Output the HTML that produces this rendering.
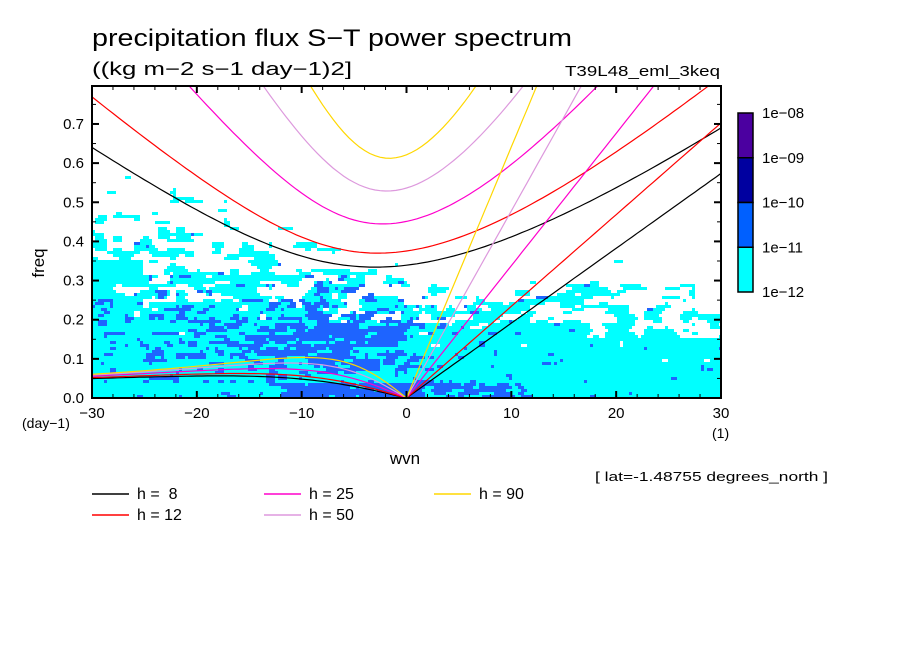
<!DOCTYPE html>
<html><head><meta charset="utf-8"><style>
body{margin:0;background:#fff;width:904px;height:654px;overflow:hidden}
svg{display:block}
text{font-family:"Liberation Sans","DejaVu Sans",sans-serif;fill:#000}
</style></head><body>
<svg id="chart" width="904" height="654" viewBox="0 0 904 654">
<g id="field"></g>
<g id="curves"></g>
<g id="axes"></g>
<text x="92" y="46" font-size="24" textLength="480" lengthAdjust="spacingAndGlyphs">precipitation flux S−T power spectrum</text>
<text x="92" y="75" font-size="18" textLength="260" lengthAdjust="spacingAndGlyphs">((kg m−2 s−1 day−1)2]</text>
<text x="565" y="76" font-size="15" textLength="155" lengthAdjust="spacingAndGlyphs">T39L48_eml_3keq</text>
<text x="38" y="257" font-size="17" transform="rotate(-90 44 257)" text-anchor="middle">freq</text>
<text x="405" y="464" font-size="17" text-anchor="middle">wvn</text>
<text x="22" y="428" font-size="14">(day−1)</text>
<text x="712" y="438" font-size="14">(1)</text>
<text x="595" y="481" font-size="13" textLength="233" lengthAdjust="spacingAndGlyphs">[ lat=-1.48755 degrees_north ]</text>
<g id="cbar"></g>
<g id="legend"></g>
</svg>
<script>
const NS="http://www.w3.org/2000/svg";
const hValues=[8,12,25,50,90];
const hColors=["#000000","#ff0000","#ff00cc","#dd99dd","#ffd700"];
const cbarLabels=["1e-08","1e-09","1e-10","1e-11","1e-12"];
const cbarColors=["#4b00a0","#0000a0","#0060ff","#00ffff"];
const xTicks=[-30,-20,-10,0,10,20,30];
const yTicks=[0.0,0.1,0.2,0.3,0.4,0.5,0.6,0.7];

const X0=92,X1=721,Y0=398,Y1=86,XMIN=-30,XMAX=30,YMIN=0,YMAX=0.797;
const sx=k=>X0+(k-XMIN)/(XMAX-XMIN)*(X1-X0);
const sy=f=>Y0-(f-YMIN)/(YMAX-YMIN)*(Y0-Y1);
function mk(tag,attrs,parent){const e=document.createElementNS(NS,tag);for(const a in attrs)e.setAttribute(a,attrs[a]);parent.appendChild(e);return e;}

// ---- background field (deterministic texture) ----
function hash2(i,j){let h=Math.sin(i*127.1+j*311.7)*43758.5453;return h-Math.floor(h);}
function vnoise(x,y){const i=Math.floor(x),j=Math.floor(y),fx=x-i,fy=y-j;
 const u=fx*fx*(3-2*fx),v=fy*fy*(3-2*fy);
 const p=hash2(i,j),b=hash2(i+1,j),c=hash2(i,j+1),d=hash2(i+1,j+1);
 return p+(b-p)*u+(c-p)*v+(p-b-c+d)*u*v;}
function bound(k){return k<0?0.5-0.17*(k+30)/30:0.31-0.06*k/30;}
const fieldG=document.getElementById('field');
const cw=3,ch=3;
let cyanPath="",bluePath="";
for(let px=X0;px<X1;px+=cw){for(let py=Y1;py<Y0;py+=ch){
 const k=XMIN+(px+cw/2-X0)/(X1-X0)*(XMAX-XMIN);
 const f=(Y0-(py+ch/2))/(Y0-Y1)*YMAX;
 const n=vnoise(px/22,py/9)*0.5+vnoise(px/9,py/4)*0.5;
 const L=1-f/bound(k)+(n-0.5)*1.1;
 const n2=vnoise(px/10+50,py/4+20)*0.6+vnoise(px/5+9,py/2.5+3)*0.4;
 let B=0.3*Math.exp(-(((k+7)/13)**2))*Math.exp(-(((f-0.14)/0.13)**2))+((f<0.035&&k>-12&&k<12)?0.35:0)+0.12*(k<0?1:0.2)*Math.exp(-(((f-0.18)/0.12)**2));
 B+=(n2-0.5)*0.9;
 const cell=`M${px},${py}h${cw}v${ch}h${-cw}z`;
 if(L>0.2)cyanPath+=cell;
 if(L>0.2&&B>0.3)bluePath+=cell;
}}
const cp=mk('path',{d:cyanPath,fill:'#00ffff'},fieldG);


const bp=mk('path',{d:bluePath,fill:'#1e64ff'},fieldG);



// ---- dispersion curves ----
const beta=2.29e-11,Ra=6.371e6,grav=9.81;
const toCpd=w=>w*86400/(2*Math.PI);
const curvesG=document.getElementById('curves');
function clipPoly(pts){return pts.filter(p=>p[1]<=YMAX+0.05&&p[1]>=-0.01).map(p=>sx(p[0]).toFixed(1)+","+sy(Math.min(p[1],YMAX+0.05)).toFixed(1)).join(" ");}
const clipEl=mk('clipPath',{id:'pc'},mk('defs',{},curvesG));
mk('rect',{x:X0,y:Y1,width:X1-X0,height:Y0-Y1},clipEl);
hValues.forEach((h,i)=>{
 const c=Math.sqrt(grav*h);
 const g2=mk('g',{'clip-path':'url(#pc)',stroke:hColors[i],fill:'none','stroke-width':1.2},curvesG);
 
 
 const kel=[];for(let kw=0;kw<=30;kw+=0.5){kel.push([kw,toCpd(c*kw/Ra)]);}
 const p1=mk('polyline',{points:clipPoly(kel)},g2);
 
 
 const er=[];for(let kw=-30;kw<=0;kw+=0.5){const k=kw/Ra;er.push([kw,toCpd(-beta*k/(k*k+3*beta/c))]);}
 const p2=mk('polyline',{points:clipPoly(er)},g2);
 
 
 const ig=[];for(let kw=-30;kw<=30;kw+=0.5){const k=kw/Ra;let w=Math.sqrt(3*beta*c+c*c*k*k);
  for(let it=0;it<30;it++){w=Math.sqrt(Math.max(1e-14,3*beta*c+c*c*k*k+beta*c*c*k/w));}ig.push([kw,toCpd(w)]);}
 const p3=mk('polyline',{points:clipPoly(ig)},g2);
 
 
});

// ---- axes ----
const ax=document.getElementById('axes');
const fr=mk('rect',{x:X0,y:Y1,width:X1-X0,height:Y0-Y1,fill:'none',stroke:'#000','stroke-width':2},ax);


for(let k=-30;k<=30;k+=2){const X=sx(k),maj=(k%10===0),L=maj?7:4;
 mk('line',{x1:X,y1:Y0,x2:X,y2:Y0-L,stroke:'#000','stroke-width':maj?2:1},ax);
 mk('line',{x1:X,y1:Y1,x2:X,y2:Y1+L,stroke:'#000','stroke-width':maj?2:1},ax);}
xTicks.forEach(k=>{const t=mk('text',{x:sx(k),y:Y0+20,'font-size':15,'text-anchor':'middle'},ax);t.textContent=(k<0?'−':'')+Math.abs(k);
 
 });
for(let s=0;s<=15;s++){const f=s*0.05,Y=sy(f),maj=s%2===0,L=maj?7:4;
 mk('line',{x1:X0,y1:Y,x2:X0+L,y2:Y,stroke:'#000','stroke-width':maj?2:1},ax);
 mk('line',{x1:X1,y1:Y,x2:X1-L,y2:Y,stroke:'#000','stroke-width':maj?2:1},ax);}
yTicks.forEach(f=>{const t=mk('text',{x:X0-8,y:sy(f)+5,'font-size':15,'text-anchor':'end'},ax);t.textContent=f.toFixed(1);
 
 });

// ---- colorbar ----
const cb=document.getElementById('cbar');
const CB0=113,CBH=44.75;
cbarColors.forEach((col,i)=>{const r=mk('rect',{x:738,y:CB0+i*CBH,width:15,height:CBH,fill:col,stroke:'#000','stroke-width':1.5},cb);
 
 });
cbarLabels.forEach((lab,i)=>{const t=mk('text',{x:762,y:CB0+i*CBH+5,'font-size':15},cb);t.textContent=lab.replace('-','−');
 
 });

// ---- legend ----
const lg=document.getElementById('legend');
const legPos=[[92,494],[92,515],[264,494],[264,515],[434,494]];
hValues.forEach((h,i)=>{const x=legPos[i][0],y=legPos[i][1];
 const ge=mk('g',{},lg);
 
 
 mk('line',{x1:x,y1:y,x2:x+37,y2:y,stroke:hColors[i],'stroke-width':1.5},ge);
 const t=mk('text',{x:x+45,y:y+5,'font-size':16,style:'white-space:pre'},ge);
 t.textContent='h = '+(h<10?' ':'')+h;});
</script>
</body></html>
